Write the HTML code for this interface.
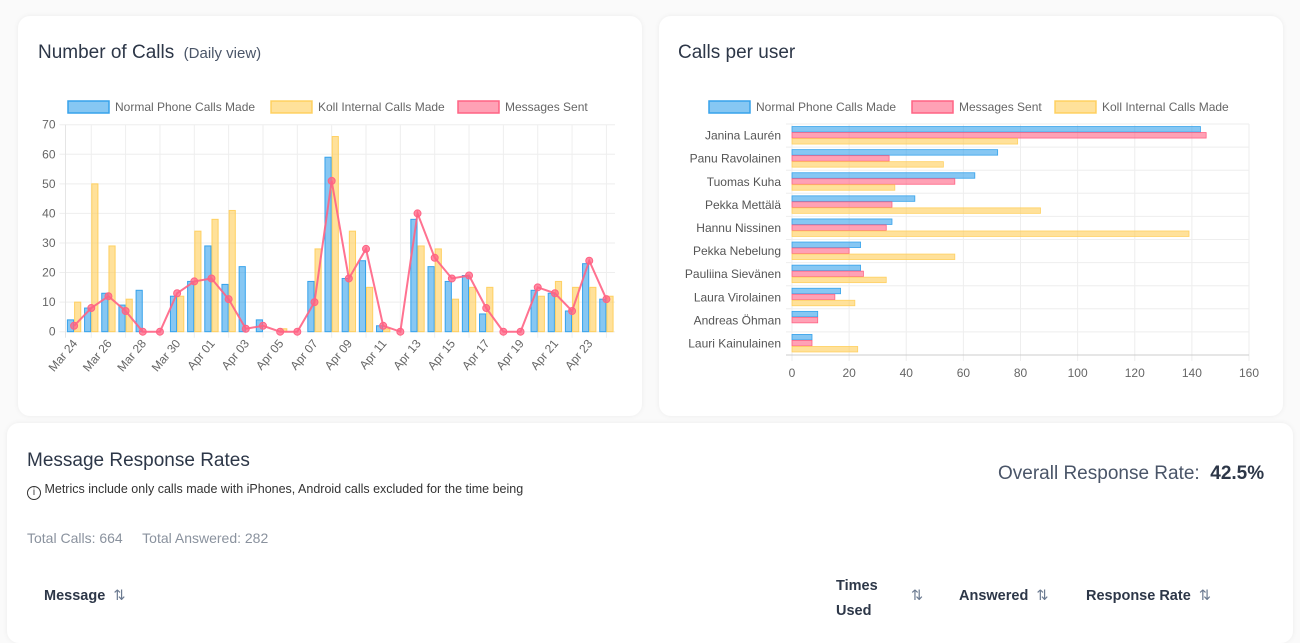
<!DOCTYPE html>
<html><head><meta charset="utf-8"><style>
body{margin:0;width:1300px;height:630px;overflow:hidden;background:#fafafa;font-family:"Liberation Sans",sans-serif;position:relative}
.card{position:absolute;background:#fff;border-radius:12px;box-shadow:0 0 6px rgba(0,0,0,0.06)}
.t{position:absolute;white-space:nowrap}
svg text{font-family:"Liberation Sans",sans-serif}
</style></head><body>
<div class="card" style="left:18px;top:16px;width:624px;height:400px"></div>
<div class="card" style="left:659px;top:16px;width:624px;height:400px"></div>
<div class="card" style="left:7px;top:423px;width:1286px;height:220px"></div>
<div class="t" style="left:38px;top:42px;font-size:19px;color:#2d3748">Number of Calls <span style="font-size:15px;color:#4a5568">&nbsp;(Daily view)</span></div>
<div class="t" style="left:678px;top:42px;font-size:19px;color:#2d3748">Calls per user</div>
<div class="t" style="left:27px;top:450px;font-size:19px;color:#2d3748">Message Response Rates</div>
<div class="t" style="left:27px;top:482px;font-size:12.5px;color:#333"><span style="display:inline-block;width:12px;height:12px;border:1.3px solid #333;border-radius:50%;font-size:10px;text-align:center;line-height:12px;vertical-align:-2px">i</span> Metrics include only calls made with iPhones, Android calls excluded for the time being</div>
<div class="t" style="left:27px;top:530px;font-size:14px;color:#8a929e">Total Calls: 664 &nbsp;&nbsp;&nbsp;&nbsp;Total Answered: 282</div>
<div class="t" style="left:998px;top:463px;font-size:19px;color:#4a5568">Overall Response Rate: &nbsp;<b style="color:#2d3748">42.5%</b></div>
<div class="t" style="left:44px;top:588px;font-size:14.5px;color:#2d3748;font-weight:bold">Message &nbsp;<span style="color:#6b7a90;font-weight:normal">⇅</span></div>
<div class="t" style="left:836px;top:574px;font-size:14.5px;color:#2d3748;font-weight:bold;line-height:25px">Times<br>Used</div>
<div class="t" style="left:911px;top:588px;font-size:14.5px;color:#6b7a90">⇅</div>
<div class="t" style="left:959px;top:588px;font-size:14.5px;color:#2d3748;font-weight:bold">Answered &nbsp;<span style="color:#6b7a90;font-weight:normal">⇅</span></div>
<div class="t" style="left:1086px;top:588px;font-size:14.5px;color:#2d3748;font-weight:bold">Response Rate &nbsp;<span style="color:#6b7a90;font-weight:normal">⇅</span></div>
<svg id="s" width="1300" height="630" style="position:absolute;left:0;top:0"></svg>
<script>
const days=["Mar 24","Mar 25","Mar 26","Mar 27","Mar 28","Mar 29","Mar 30","Mar 31","Apr 01","Apr 02","Apr 03","Apr 04","Apr 05","Apr 06","Apr 07","Apr 08","Apr 09","Apr 10","Apr 11","Apr 12","Apr 13","Apr 14","Apr 15","Apr 16","Apr 17","Apr 18","Apr 19","Apr 20","Apr 21","Apr 22","Apr 23","Apr 24"];
const normalCalls=[4,8,13,9,14,0,12,17,29,16,22,4,0,0,17,59,18,24,2,0,38,22,17,19,6,0,0,14,13,7,23,11];
const kollCalls=[10,50,29,11,0,0,12,34,38,41,0,0,1,0,28,66,34,15,1,0,29,28,11,15,15,0,0,12,17,15,15,12];
const messages=[2,8,12,7,0,0,13,17,18,11,1,2,0,0,10,51,18,28,2,0,40,25,18,19,8,0,0,15,13,7,24,11];
const yTicks=[0,10,20,30,40,50,60,70];
const users=["Janina Laurén","Panu Ravolainen","Tuomas Kuha","Pekka Mettälä","Hannu Nissinen","Pekka Nebelung","Pauliina Sievänen","Laura Virolainen","Andreas Öhman","Lauri Kainulainen"];
const userNormal=[143,72,64,43,35,24,24,17,9,7];
const userMessages=[145,34,57,35,33,20,25,15,9,7];
const userKoll=[79,53,36,87,139,57,33,22,0,23];
const xTicks=[0,20,40,60,80,100,120,140,160];
const S=document.getElementById('s'),NS='http://www.w3.org/2000/svg';
function mk(t,a,txt){const e=document.createElementNS(NS,t);for(const k in a)e.setAttribute(k,a[k]);if(txt!==undefined)e.textContent=txt;S.appendChild(e);return e;}
const BLUE='rgba(54,162,235,0.6)',BLUEB='rgb(54,162,235)',YEL='rgba(255,205,86,0.6)',YELB='rgba(255,205,86,0.9)',PINK='rgba(255,99,132,0.6)',PINKB='rgb(255,99,132)';
// legend helper
function legend(items,y,name){items.forEach(it=>{const r=mk('rect',{x:it[0],y:y-6,width:41,height:12,fill:it[2],stroke:it[3],'stroke-width':1.5});const t=mk('text',{x:it[0]+47,y:y+4,'font-size':12,fill:'#666'},it[1]);});}
// left chart
const L=65.5,R=615,T=124.7,B=331.7,n=days.length,cw=(R-L)/n;
const yS=v=>B-v*(B-T)/70,xC=i=>L+cw*(i+0.5);
yTicks.forEach(v=>{const l=mk('line',{x1:L-6,x2:R,y1:yS(v),y2:yS(v),stroke:'#eee'});const t=mk('text',{x:L-10,y:yS(v)+4,'font-size':12,fill:'#666','text-anchor':'end'},v);});
mk('line',{x1:L,x2:L,y1:T,y2:B+6,stroke:'#e5e5e5'});
days.forEach((d,i)=>{if(i%2==1){const g=mk('line',{x1:xC(i),x2:xC(i),y1:T,y2:B+6,stroke:'#eee'});}
 if(i%2==0){const x=xC(i)+4,y=B+12;const t=mk('text',{x:x,y:y,'font-size':12,fill:'#666','text-anchor':'end',transform:`rotate(-50 ${x} ${y})`},d);}});
const bw=cw*0.36;
days.forEach((d,i)=>{const b=mk('rect',{x:xC(i)-bw-0.5,y:yS(normalCalls[i]),width:bw,height:B-yS(normalCalls[i]),fill:BLUE,stroke:BLUEB,'stroke-width':1});
 const k=mk('rect',{x:xC(i)+0.5,y:yS(kollCalls[i]),width:bw,height:B-yS(kollCalls[i]),fill:YEL,stroke:YELB,'stroke-width':1});});
const ln=mk('polyline',{points:messages.map((v,i)=>xC(i)+','+yS(v)).join(' '),fill:'none',stroke:'rgba(255,99,132,0.9)','stroke-width':2});

messages.forEach((v,i)=>{const c=mk('circle',{cx:xC(i),cy:yS(v),r:3.5,fill:'rgba(255,99,132,0.75)',stroke:PINKB});});
legend([[68,'Normal Phone Calls Made',BLUE,BLUEB],[271,'Koll Internal Calls Made',YEL,YELB],[458,'Messages Sent',PINK,PINKB]],107,'calls-legend');
// right chart
const L2=792,R2=1249,T2=124,B2=355,m=users.length,rh=(B2-T2)/m;
const xS=v=>L2+v*(R2-L2)/160;
xTicks.forEach(v=>{const l=mk('line',{x1:xS(v),x2:xS(v),y1:T2,y2:B2+6,stroke:'#eee'});const t=mk('text',{x:xS(v),y:B2+22,'font-size':12,fill:'#666','text-anchor':'middle'},v);});
users.forEach((u,i)=>{const yt=T2+i*rh;mk('line',{x1:L2-6,x2:R2,y1:yt,y2:yt,stroke:'#eee'});
 const t=mk('text',{x:L2-11,y:yt+rh/2+4,'font-size':12,fill:'#555','text-anchor':'end'},u);
 const bh=rh*0.26,y0=yt+rh*0.11;
 [[userNormal,BLUE,BLUEB,'user-normal-bar'],[userMessages,PINK,PINKB,'user-messages-bar'],[userKoll,YEL,YELB,'user-koll-bar']].forEach((s,j)=>{const v=s[0][i];if(!v)return;const r=mk('rect',{x:L2,y:y0+j*bh,width:xS(v)-L2,height:bh-0.5,fill:s[1],stroke:s[2],'stroke-width':0.8});});});
mk('line',{x1:L2-6,x2:R2,y1:B2,y2:B2,stroke:'#ccc'});
legend([[709,'Normal Phone Calls Made',BLUE,BLUEB],[912,'Messages Sent',PINK,PINKB],[1055,'Koll Internal Calls Made',YEL,YELB]],107,'user-legend');
</script>
</body></html>
